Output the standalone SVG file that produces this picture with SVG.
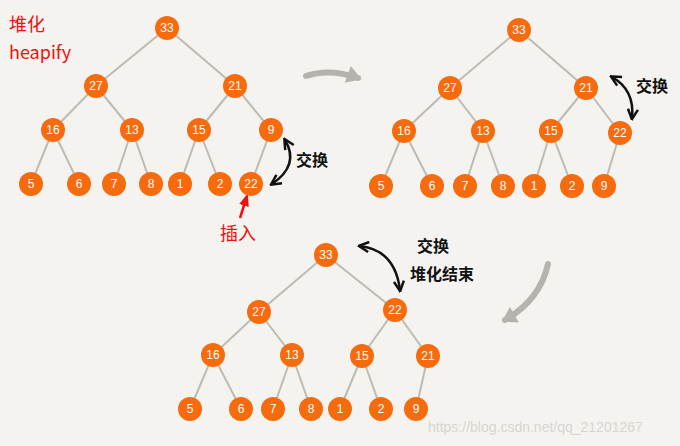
<svg xmlns="http://www.w3.org/2000/svg" width="680" height="446" viewBox="0 0 680 446">
<style>
.e line{stroke:#bdbbb5;stroke-width:2}
.n circle{fill:#f76b0f}
.n text{fill:#fff;font-family:"Liberation Sans",sans-serif;font-size:12px;text-anchor:middle}
.red{fill:#f01010;font-family:"Noto Sans CJK SC","Liberation Sans",sans-serif;font-size:18px}
.blk{fill:#111;font-family:"Noto Sans CJK SC",sans-serif;font-size:16px;font-weight:bold}
.ar{fill:none;stroke:#111;stroke-width:2.5}
</style>
<defs>
<marker id="h" viewBox="0 0 10 10" refX="8" refY="5" markerWidth="5" markerHeight="5" orient="auto-start-reverse"><path d="M1 1L9 5L1 9" fill="none" stroke="#111" stroke-width="2"/></marker>
<marker id="g" viewBox="0 0 10 10" refX="7" refY="5" markerWidth="3" markerHeight="3" orient="auto"><path d="M1 0L9 5L1 10Z" fill="#b5b3ad"/></marker>
<marker id="r" viewBox="0 0 10 10" refX="8" refY="5" markerWidth="5" markerHeight="5" orient="auto"><path d="M0 1L10 5L0 9Z" fill="#f01010"/></marker>
</defs>
<rect width="680" height="446" fill="#f4f3ef"/>
<g id="connectors" class="e">
<line x1="167" y1="28" x2="96" y2="86"/><line x1="167" y1="28" x2="235" y2="86"/>
<line x1="96" y1="86" x2="53" y2="130"/><line x1="96" y1="86" x2="132" y2="130"/>
<line x1="235" y1="86" x2="199" y2="130"/><line x1="235" y1="86" x2="271" y2="130"/>
<line x1="53" y1="130" x2="31" y2="184"/><line x1="53" y1="130" x2="79" y2="184"/>
<line x1="132" y1="130" x2="114" y2="184"/><line x1="132" y1="130" x2="151" y2="184"/>
<line x1="199" y1="130" x2="180" y2="184"/><line x1="199" y1="130" x2="220" y2="184"/>
<line x1="271" y1="130" x2="251" y2="184"/>
<line x1="519" y1="30" x2="450" y2="88"/><line x1="519" y1="30" x2="586" y2="88"/>
<line x1="450" y1="88" x2="404" y2="131"/><line x1="450" y1="88" x2="483" y2="131"/>
<line x1="586" y1="88" x2="551" y2="131"/><line x1="586" y1="88" x2="620" y2="133"/>
<line x1="404" y1="131" x2="381" y2="186"/><line x1="404" y1="131" x2="432" y2="186"/>
<line x1="483" y1="131" x2="465" y2="186"/><line x1="483" y1="131" x2="503" y2="186"/>
<line x1="551" y1="131" x2="534" y2="186"/><line x1="551" y1="131" x2="572" y2="186"/>
<line x1="620" y1="133" x2="604" y2="186"/>
<line x1="326" y1="255" x2="259" y2="312"/><line x1="326" y1="255" x2="395" y2="310"/>
<line x1="259" y1="312" x2="213" y2="355"/><line x1="259" y1="312" x2="292" y2="355"/>
<line x1="395" y1="310" x2="362" y2="356"/><line x1="395" y1="310" x2="428" y2="356"/>
<line x1="213" y1="355" x2="190" y2="409"/><line x1="213" y1="355" x2="241" y2="409"/>
<line x1="292" y1="355" x2="273" y2="409"/><line x1="292" y1="355" x2="311" y2="409"/>
<line x1="362" y1="356" x2="340" y2="409"/><line x1="362" y1="356" x2="381" y2="409"/>
<line x1="428" y1="356" x2="416" y2="409"/>
<path d="M306 76Q330 68 358 78" fill="none" stroke="#b5b3ad" stroke-width="6" stroke-linecap="round" marker-end="url(#g)"/>
<path d="M548 264Q540 300 505 320" fill="none" stroke="#b5b3ad" stroke-width="6" stroke-linecap="round" marker-end="url(#g)"/>
<path class="ar" d="M285 140Q300 165 272 184" marker-start="url(#h)" marker-end="url(#h)"/>
<path class="ar" d="M612 77Q635 90 632 118" marker-start="url(#h)" marker-end="url(#h)"/>
<path class="ar" d="M360 246Q395 250 400 290" marker-start="url(#h)" marker-end="url(#h)"/>
<path d="M240 218L247 196" stroke="#f01010" stroke-width="2.5" marker-end="url(#r)"/>
</g>
<g id="t1" class="n">
<circle cx="167" cy="28" r="12"/><text x="167" y="32">33</text>
<circle cx="96" cy="86" r="12"/><text x="96" y="90">27</text>
<circle cx="235" cy="86" r="12"/><text x="235" y="90">21</text>
<circle cx="53" cy="130" r="12"/><text x="53" y="134">16</text>
<circle cx="132" cy="130" r="12"/><text x="132" y="134">13</text>
<circle cx="199" cy="130" r="12"/><text x="199" y="134">15</text>
<circle cx="271" cy="130" r="12"/><text x="271" y="134">9</text>
<circle cx="31" cy="184" r="12"/><text x="31" y="188">5</text>
<circle cx="79" cy="184" r="12"/><text x="79" y="188">6</text>
<circle cx="114" cy="184" r="12"/><text x="114" y="188">7</text>
<circle cx="151" cy="184" r="12"/><text x="151" y="188">8</text>
<circle cx="180" cy="184" r="12"/><text x="180" y="188">1</text>
<circle cx="220" cy="184" r="12"/><text x="220" y="188">2</text>
<circle cx="251" cy="184" r="12"/><text x="251" y="188">22</text>
</g>
<g id="t2" class="n">
<circle cx="519" cy="30" r="12"/><text x="519" y="34">33</text>
<circle cx="450" cy="88" r="12"/><text x="450" y="92">27</text>
<circle cx="586" cy="88" r="12"/><text x="586" y="92">21</text>
<circle cx="404" cy="131" r="12"/><text x="404" y="135">16</text>
<circle cx="483" cy="131" r="12"/><text x="483" y="135">13</text>
<circle cx="551" cy="131" r="12"/><text x="551" y="135">15</text>
<circle cx="620" cy="133" r="12"/><text x="620" y="137">22</text>
<circle cx="381" cy="186" r="12"/><text x="381" y="190">5</text>
<circle cx="432" cy="186" r="12"/><text x="432" y="190">6</text>
<circle cx="465" cy="186" r="12"/><text x="465" y="190">7</text>
<circle cx="503" cy="186" r="12"/><text x="503" y="190">8</text>
<circle cx="534" cy="186" r="12"/><text x="534" y="190">1</text>
<circle cx="572" cy="186" r="12"/><text x="572" y="190">2</text>
<circle cx="604" cy="186" r="12"/><text x="604" y="190">9</text>
</g>
<g id="t3" class="n">
<circle cx="326" cy="255" r="12"/><text x="326" y="259">33</text>
<circle cx="259" cy="312" r="12"/><text x="259" y="316">27</text>
<circle cx="395" cy="310" r="12"/><text x="395" y="314">22</text>
<circle cx="213" cy="355" r="12"/><text x="213" y="359">16</text>
<circle cx="292" cy="355" r="12"/><text x="292" y="359">13</text>
<circle cx="362" cy="356" r="12"/><text x="362" y="360">15</text>
<circle cx="428" cy="356" r="12"/><text x="428" y="360">21</text>
<circle cx="190" cy="409" r="12"/><text x="190" y="413">5</text>
<circle cx="241" cy="409" r="12"/><text x="241" y="413">6</text>
<circle cx="273" cy="409" r="12"/><text x="273" y="413">7</text>
<circle cx="311" cy="409" r="12"/><text x="311" y="413">8</text>
<circle cx="340" cy="409" r="12"/><text x="340" y="413">1</text>
<circle cx="381" cy="409" r="12"/><text x="381" y="413">2</text>
<circle cx="416" cy="409" r="12"/><text x="416" y="413">9</text>
</g>
<g id="labels">
<text class="red" x="9" y="31">堆化</text>
<text class="red" x="9" y="59">heapify</text>
<text class="red" x="220" y="240">插入</text>
<text class="blk" x="296" y="166">交换</text>
<text class="blk" x="636" y="92">交换</text>
<text class="blk" x="417" y="252">交换</text>
<text class="blk" x="410" y="280">堆化结束</text>
<text x="428" y="432" fill="#d8d6d2" font-family="Liberation Sans,sans-serif" font-size="14">https://blog.csdn.net/qq_21201267</text>
</g>
</svg>
